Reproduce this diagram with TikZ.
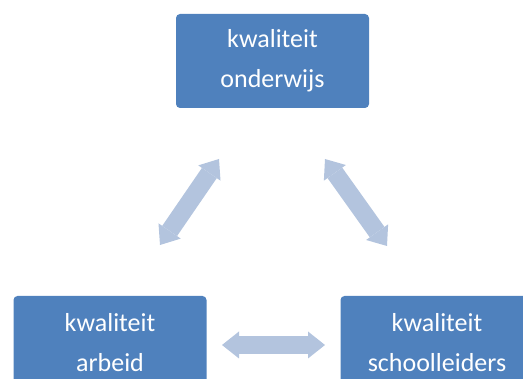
\documentclass[tikz,border=0pt]{standalone}
\usepackage{fontspec}
\setmainfont{Carlito}
\usetikzlibrary{arrows.meta}
\definecolor{boxblue}{RGB}{79,129,189}
\definecolor{arrowblue}{RGB}{179,196,222}
\tikzset{
  qbox/.style={fill=boxblue,rounded corners=4pt,minimum width=193pt,minimum height=94pt,
    text=white,align=center,font=\fontsize{26}{40}\selectfont,inner sep=0pt},
  fatarrow/.style={draw=arrowblue,line width=18pt,
    {Triangle[length=17pt,width=27pt,line width=0pt]}-{Triangle[length=17pt,width=27pt,line width=0pt]}}
}

\begin{document}
\begin{tikzpicture}[x=1pt,y=-1pt]
  \useasboundingbox (0,0) rectangle (523,379);
  % de drie kwaliteiten
  \node[qbox] (onderwijs) at (272.5,61) {kwaliteit\\onderwijs};
  \node[qbox] (arbeid) at (110,343) {kwaliteit\\arbeid};
  \node[qbox] (leiders) at (437,343) {kwaliteit\\schoolleiders};
  % eindpunten van de pijlen
  \coordinate (la) at (160,245);
  \coordinate (lb) at (219,159);
  \coordinate (ra) at (325,159);
  \coordinate (rb) at (387,246);
  \coordinate (ha) at (222,345);
  \coordinate (hb) at (325,345);
  \draw[fatarrow] (la) -- (lb);
  \draw[fatarrow] (ra) -- (rb);
  \draw[fatarrow] (ha) -- (hb);
\end{tikzpicture}
\end{document}
